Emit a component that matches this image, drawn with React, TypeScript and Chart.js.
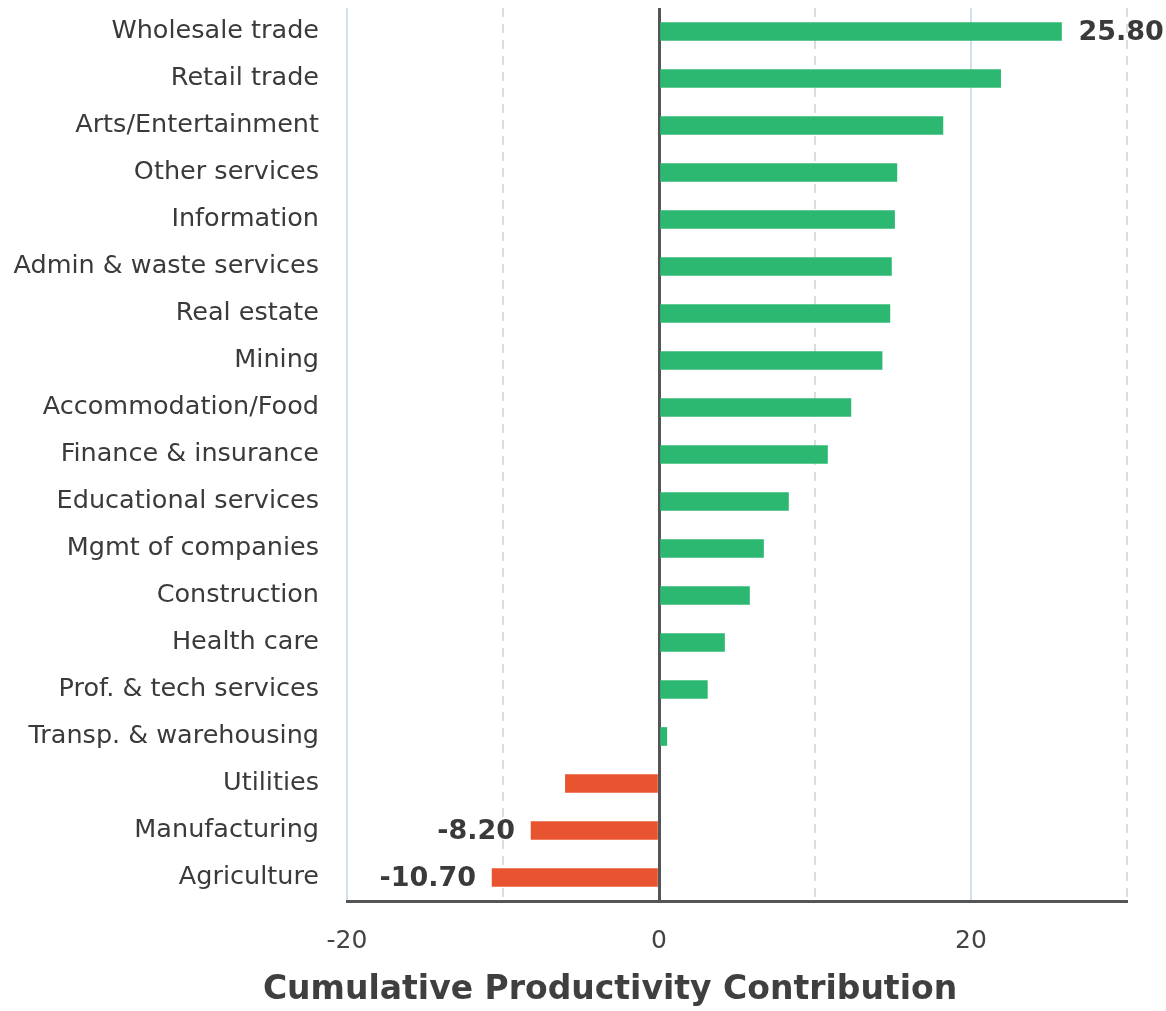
import React, { useEffect, useRef } from "react";
import { Chart, registerables } from "chart.js";

Chart.register(...registerables);

const categories = [
  "Wholesale trade",
  "Retail trade",
  "Arts/Entertainment",
  "Other services",
  "Information",
  "Admin & waste services",
  "Real estate",
  "Mining",
  "Accommodation/Food",
  "Finance & insurance",
  "Educational services",
  "Mgmt of companies",
  "Construction",
  "Health care",
  "Prof. & tech services",
  "Transp. & warehousing",
  "Utilities",
  "Manufacturing",
  "Agriculture",
];

const values = [
  25.8, 21.9, 18.2, 15.25, 15.1, 14.9, 14.8, 14.3, 12.3, 10.8, 8.3, 6.7, 5.8, 4.2, 3.1, 0.5, -6.0, -8.2, -10.7,
];

const valueLabels: (string | null)[] = [
  "25.80", null, null, null, null, null, null, null, null, null, null, null, null, null, null, null, null, "-8.20", "-10.70",
];

const xTickLabels: Record<number, string> = { [-20]: "-20", 0: "0", 20: "20" };
const xMin = -20;
const xMax = 30;
const axisTitle = "Cumulative Productivity Contribution";

const GREEN = "#2db872";
const RED = "#e8542f";
const FONT = "'DejaVu Sans', Verdana, sans-serif";

export default function App() {
  const ref = useRef<HTMLCanvasElement | null>(null);

  useEffect(() => {
    if (!ref.current) return;
    document.body.style.margin = "0";
    document.documentElement.style.overflow = "hidden";

    const labelPlugin = {
      id: "valueLabels",
      afterDatasetsDraw(chart: any) {
        const ctx = chart.ctx;
        const meta = chart.getDatasetMeta(0);
        ctx.save();
        ctx.font = `bold 27px ${FONT}`;
        ctx.fillStyle = "#3a3a3a";
        ctx.textBaseline = "middle";
        meta.data.forEach((bar: any, i: number) => {
          const lbl = valueLabels[i];
          if (!lbl) return;
          const v = values[i];
          if (v >= 0) {
            ctx.textAlign = "left";
            ctx.fillText(lbl, bar.x + 17, bar.y + 1);
          } else {
            ctx.textAlign = "right";
            ctx.fillText(lbl, bar.x - 16, bar.y + 1);
          }
        });
        ctx.restore();
      },
    };

    const titlePlugin = {
      id: "axisTitleDraw",
      afterDraw(chart: any) {
        const ctx = chart.ctx;
        ctx.save();
        ctx.font = `bold 33px ${FONT}`;
        ctx.fillStyle = "#3f3f3f";
        ctx.textAlign = "center";
        ctx.textBaseline = "middle";
        ctx.fillText(axisTitle, 610, 990);
        ctx.restore();
      },
    };

    const chart = new Chart(ref.current, {
      type: "bar",
      data: {
        labels: categories,
        datasets: [
          {
            data: values,
            backgroundColor: values.map((v) => (v >= 0 ? GREEN : RED)),
            barThickness: 18,
            borderWidth: 0,
          },
        ],
      },
      options: {
        indexAxis: "y",
        animation: false,
        responsive: false,
        maintainAspectRatio: false,
        layout: { padding: { top: 8, right: 39, left: 0, bottom: 0 } },
        plugins: {
          legend: { display: false },
          tooltip: { enabled: false },
          title: { display: false },
        },
        scales: {
          x: {
            min: xMin,
            max: xMax,
            afterFit: (s: any) => {
              s.height = 110;
              s.paddingLeft = 0;
              s.paddingRight = 0;
            },
            ticks: {
              stepSize: 10,
              autoSkip: false,
              maxRotation: 0,
              padding: 25,
              color: "#444",
              font: { family: FONT, size: 25 },
              callback: (v: any) => (xTickLabels[v as number] ?? ""),
            },
            grid: {
              drawTicks: false,
              color: (c: any) => {
                const v = c.tick?.value;
                if (v === 0) return "#555";
                if (v === -20 || v === 20) return "#cfe0ee";
                return "#dcdcdc";
              },
              lineWidth: (c: any) => {
                const v = c.tick?.value;
                if (v === 0) return 3;
                return 2;
              },
            },
            border: {
              display: true,
              color: "#555",
              width: 3,
              dash: (c: any) => {
                const v = c.tick?.value;
                if (v === -10 || v === 10 || v === 30) return [9, 7];
                return [];
              },
            },
          },
          y: {
            afterFit: (s: any) => {
              s.width = 347;
              s.paddingTop = 0;
              s.paddingBottom = 0;
            },
            ticks: {
              color: "#3a3a3a",
              padding: 28,
              autoSkip: false,
              font: { family: FONT, size: 25.5 },
            },
            grid: { display: false, drawTicks: false },
            border: { display: false },
          },
        },
      },
      plugins: [labelPlugin, titlePlugin],
    });

    return () => chart.destroy();
  }, []);

  return (
    <div style={{ width: 1166, height: 1011 }}>
      <canvas ref={ref} width={1166} height={1011} style={{ display: "block" }} />
    </div>
  );
}
